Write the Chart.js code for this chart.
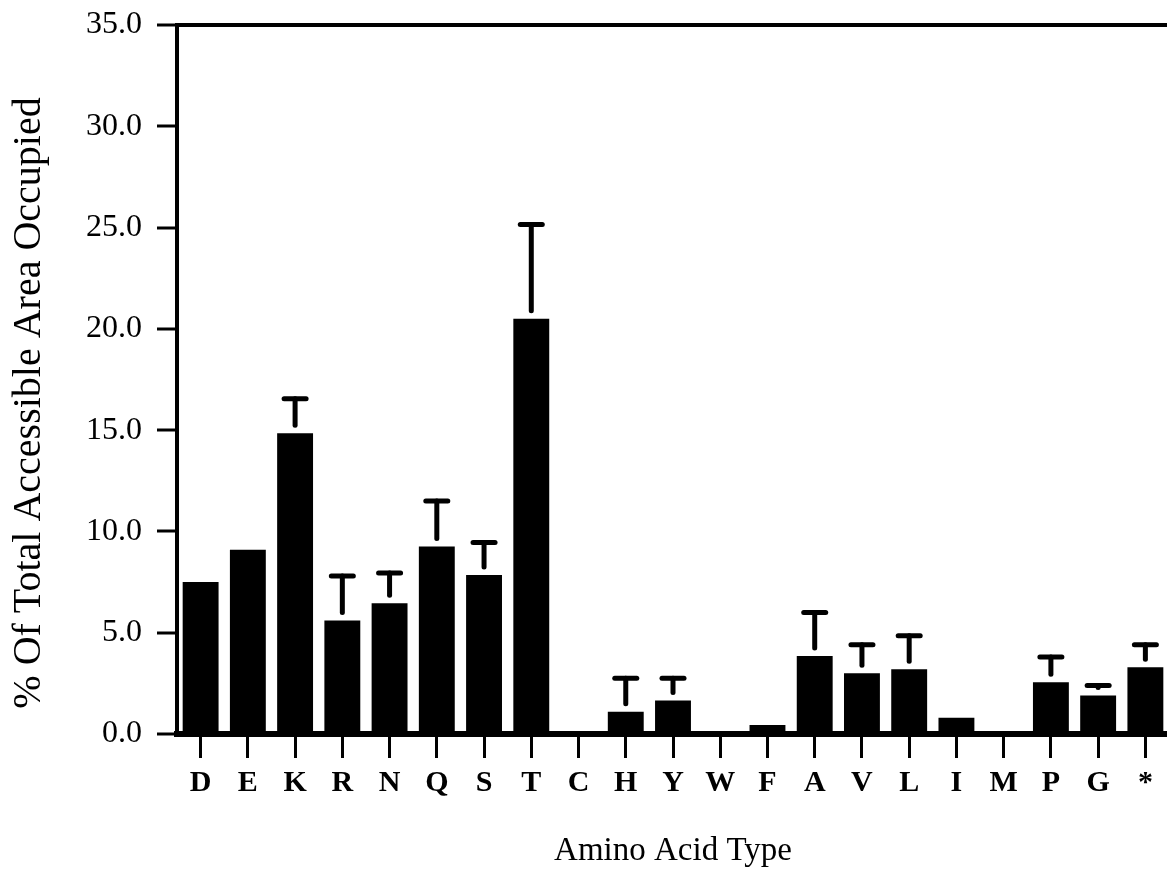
<!DOCTYPE html>
<html>
<head>
<meta charset="utf-8">
<script src="https://cdn.jsdelivr.net/npm/chart.js@4.4.1/dist/chart.umd.min.js"></script>
<style>
  html, body { margin: 0; padding: 0; background: #fff; overflow: hidden; }
  canvas { display: block; }
</style>
</head>
<body>
<canvas id="chart" width="1172" height="878"></canvas>
<script>
// Amino acid categories along the x axis
const aminoAcids = ['D', 'E', 'K', 'R', 'N', 'Q', 'S', 'T', 'C', 'H', 'Y', 'W', 'F', 'A', 'V', 'L', 'I', 'M', 'P', 'G', '*'];

// Mean % of total accessible area occupied
const areaOccupied = [7.5, 9.1, 14.85, 5.6, 6.45, 9.25, 7.85, 20.5, 0.1, 1.1, 1.65, 0.05, 0.45, 3.85, 3.0, 3.2, 0.8, 0.05, 2.55, 1.9, 3.3];

// Upper error (standard deviation); null where no error bar is drawn
const areaError = [null, null, 1.7, 2.2, 1.5, 2.25, 1.6, 4.65, null, 1.65, 1.1, null, null, 2.15, 1.4, 1.65, null, null, 1.25, 0.5, 1.1];

// Y axis tick labels
const yTickValues = [0, 5, 10, 15, 20, 25, 30, 35];
const yTickLabels = ['0.0', '5.0', '10.0', '15.0', '20.0', '25.0', '30.0', '35.0'];

const xTitle = 'Amino Acid Type';
const yTitle = '% Of Total Accessible Area Occupied';

const SERIF = "'Liberation Serif', 'DejaVu Serif', serif";

// Upward-only error bars: whisker starts a little above the bar, capped with a short bar
const errorBars = {
  id: 'errorBars',
  afterDatasetsDraw(chart) {
    const meta = chart.getDatasetMeta(0);
    const yScale = chart.scales.y;
    const ctx = chart.ctx;
    ctx.save();
    ctx.strokeStyle = '#000';
    ctx.lineCap = 'round';
    areaError.forEach((err, i) => {
      if (err === null) return;
      const bar = meta.data[i];
      const x = bar.x;
      const top = bar.y;
      const capY = yScale.getPixelForValue(areaOccupied[i] + err);
      const start = top - 8;
      if (capY < start) {
        ctx.lineWidth = 5;
        ctx.beginPath();
        ctx.moveTo(x, start);
        ctx.lineTo(x, capY);
        ctx.stroke();
      }
      ctx.lineWidth = 5;
      ctx.beginPath();
      ctx.moveTo(x - 11, capY);
      ctx.lineTo(x + 11, capY);
      ctx.stroke();
    });
    ctx.restore();
  }
};

// Vertical axis title, placed along the left edge
const yAxisTitle = {
  id: 'yAxisTitle',
  afterDraw(chart) {
    const ctx = chart.ctx;
    ctx.save();
    ctx.translate(29, 403);
    ctx.rotate(-Math.PI / 2);
    ctx.fillStyle = '#000';
    ctx.font = '40px ' + SERIF;
    ctx.textAlign = 'center';
    ctx.textBaseline = 'middle';
    ctx.fillText(yTitle, 0, 0);
    ctx.restore();
  }
};

new Chart(document.getElementById('chart'), {
  type: 'bar',
  data: {
    labels: aminoAcids,
    datasets: [{
      data: areaOccupied,
      backgroundColor: '#000',
      borderWidth: 0,
      categoryPercentage: 1.0,
      barPercentage: 0.76
    }]
  },
  options: {
    responsive: false,
    animation: false,
    devicePixelRatio: 1,
    layout: { padding: { top: 25, right: 3, bottom: 0, left: 0 } },
    plugins: {
      legend: { display: false },
      tooltip: { enabled: false }
    },
    scales: {
      x: {
        offset: true,
        grid: {
          offset: false,
          drawOnChartArea: false,
          drawTicks: true,
          tickLength: 24,
          tickWidth: 3,
          tickColor: '#000',
          color: '#000'
        },
        border: { display: true, color: '#000', width: 6 },
        ticks: {
          color: '#000',
          padding: 7,
          maxRotation: 0,
          autoSkip: false,
          font: { family: SERIF, size: 30, weight: 'bold' }
        },
        title: {
          display: true,
          text: xTitle,
          color: '#000',
          padding: { top: 0, bottom: 7 },
          font: { family: SERIF, size: 33 }
        },
        afterFit(scale) {
          scale.height = 878 - 734;
          scale.paddingLeft = 0;
          scale.paddingRight = 0;
        }
      },
      y: {
        min: 0,
        max: 35,
        afterBuildTicks(scale) {
          scale.ticks = yTickValues.map(v => ({ value: v }));
        },
        grid: {
          drawOnChartArea: true,
          drawTicks: true,
          tickLength: 20,
          tickWidth: 3,
          tickColor: '#000',
          lineWidth: 4,
          color: ctx => (ctx.tick && ctx.tick.value === 35) ? '#000' : 'rgba(0,0,0,0)'
        },
        border: { display: true, color: '#000', width: 4 },
        ticks: {
          color: '#000',
          padding: 15,
          font: { family: SERIF, size: 32 },
          callback: (value, index) => yTickLabels[index]
        },
        afterFit(scale) {
          scale.width = 177;
          scale.paddingTop = 0;
          scale.paddingBottom = 0;
        }
      }
    }
  },
  plugins: [errorBars, yAxisTitle]
});
</script>
</body>
</html>
